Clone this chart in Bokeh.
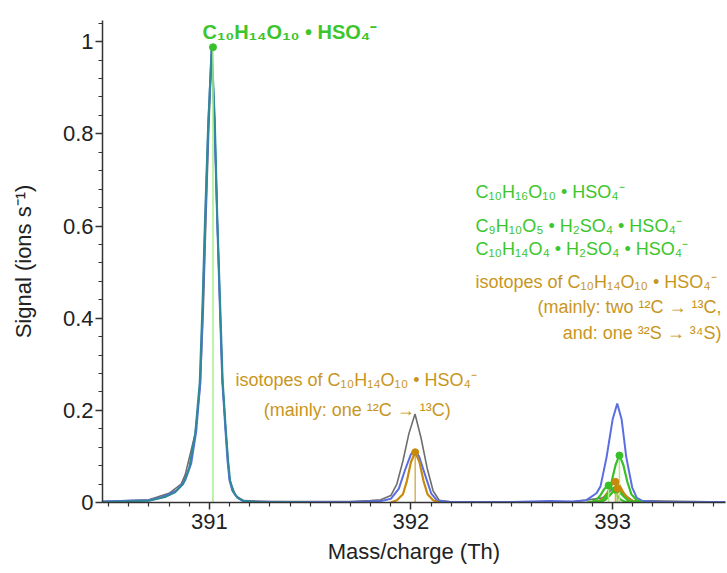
from bokeh.plotting import figure
from bokeh.models import Range1d, FixedTicker, Label
from bokeh.embed import file_html
from bokeh.resources import INLINE

# ---------------- data ----------------
# measured spectrum (blue)
meas_mz = [390.47, 390.60, 390.70, 390.76, 390.80, 390.84, 390.88, 390.91, 390.935, 390.955,
           390.968, 390.98, 390.995, 391.011, 391.025, 391.039, 391.051, 391.064, 391.080, 391.090,
           391.100, 391.114, 391.138, 391.163, 391.20, 391.40, 391.70, 391.85, 391.90, 391.94,
           391.97, 392.00, 392.02, 392.04, 392.07, 392.10, 392.13, 392.20, 392.50, 392.69,
           392.80, 392.87, 392.92, 392.94, 392.97, 393.00, 393.023, 393.045, 393.068, 393.097,
           393.12, 393.15, 393.25, 393.56]
meas_sig = [0.002, 0.004, 0.005, 0.011, 0.018, 0.027, 0.048, 0.085, 0.155, 0.26,
            0.43, 0.61, 0.82, 0.985, 0.83, 0.61, 0.44, 0.265, 0.156, 0.091,
            0.048, 0.026, 0.011, 0.004, 0.002, 0.001, 0.001, 0.003, 0.008, 0.03,
            0.07, 0.105, 0.113, 0.100, 0.060, 0.020, 0.004, 0.001, 0.001, 0.003,
            0.002, 0.005, 0.02, 0.035, 0.098, 0.18, 0.215, 0.18, 0.098, 0.033,
            0.01, 0.003, 0.001, 0.001]

# second spectrum (grey)
grey_mz = [390.47, 390.70, 390.80, 390.86, 390.88, 390.905, 390.93, 390.955, 390.97, 390.982,
           390.997, 391.012, 391.026, 391.040, 391.052, 391.065, 391.082, 391.10, 391.13, 391.17,
           391.30, 391.70, 391.80, 391.85, 391.90, 391.93, 391.96, 391.99, 392.02, 392.05,
           392.08, 392.11, 392.14, 392.20, 392.80, 392.95, 393.00, 393.02, 393.05, 393.10, 393.56]
grey_sig = [0.002, 0.006, 0.02, 0.04, 0.06, 0.105, 0.15, 0.255, 0.42, 0.60,
            0.81, 0.975, 0.82, 0.60, 0.43, 0.26, 0.15, 0.05, 0.015, 0.004,
            0.002, 0.002, 0.004, 0.006, 0.015, 0.04, 0.09, 0.15, 0.192, 0.14,
            0.075, 0.025, 0.005, 0.001, 0.001, 0.01, 0.03, 0.035, 0.02, 0.004, 0.001]

# fit of main peak (teal)
fit_mz = [390.47, 390.70, 390.78, 390.83, 390.87, 390.90, 390.93, 390.952, 390.966, 390.978,
          390.994, 391.012, 391.027, 391.040, 391.053, 391.066, 391.082, 391.093, 391.103, 391.117,
          391.14, 391.17, 391.25, 391.50]
fit_sig = [0.001, 0.004, 0.012, 0.022, 0.04, 0.075, 0.15, 0.26, 0.43, 0.61,
           0.82, 0.985, 0.83, 0.61, 0.44, 0.265, 0.156, 0.091, 0.048, 0.024,
           0.010, 0.003, 0.001, 0.0]

# fitted isotope peak at 392 (orange)
iso392_mz = [391.90, 391.93, 391.96, 391.98, 392.00, 392.021, 392.042, 392.062, 392.082, 392.11, 392.14]
iso392_sig = [0.0, 0.005, 0.018, 0.047, 0.088, 0.109, 0.088, 0.047, 0.018, 0.005, 0.0]

# fitted peaks at 393 (green: identified compounds)
g1_mz = [392.92, 392.95, 392.975, 392.995, 393.015, 393.034, 393.053, 393.073, 393.093, 393.12, 393.15]
g1_sig = [0.0, 0.005, 0.018, 0.045, 0.082, 0.102, 0.082, 0.045, 0.018, 0.005, 0.0]
g2_mz = [392.87, 392.90, 392.92, 392.94, 392.96, 392.98, 393.00, 393.02, 393.04, 393.06, 393.09]
g2_sig = [0.0, 0.002, 0.006, 0.016, 0.030, 0.037, 0.030, 0.016, 0.006, 0.002, 0.0]
g3_mz = [392.91, 392.94, 392.96, 392.98, 393.00, 393.017, 393.035, 393.055, 393.075, 393.10, 393.13]
g3_sig = [0.0, 0.002, 0.005, 0.013, 0.023, 0.028, 0.023, 0.013, 0.005, 0.002, 0.0]

# fitted isotope peaks at 393 (orange)
o1_mz = [392.90, 392.93, 392.955, 392.975, 392.995, 393.014, 393.033, 393.053, 393.073, 393.10, 393.13]
o1_sig = [0.0, 0.003, 0.009, 0.022, 0.038, 0.045, 0.038, 0.022, 0.009, 0.003, 0.0]
o2_mz = [392.91, 392.94, 392.965, 392.985, 393.005, 393.025, 393.045, 393.065, 393.085, 393.11, 393.14]
o2_sig = [0.0, 0.002, 0.006, 0.015, 0.025, 0.030, 0.025, 0.015, 0.006, 0.002, 0.0]

# peak positions (sticks) and heights
green_pk_mz = [391.018, 392.98, 393.017, 393.034]
green_pk_sig = [0.988, 0.037, 0.028, 0.102]
orange_pk_mz = [392.021, 393.014, 393.025]
orange_pk_sig = [0.109, 0.045, 0.030]

x_tick_values = [391, 392, 393]
x_tick_labels = ["391", "392", "393"]
x_minor_ticks = [390.5, 390.6, 390.7, 390.8, 390.9, 391.1, 391.2, 391.3, 391.4, 391.5, 391.6,
                 391.7, 391.8, 391.9, 392.1, 392.2, 392.3, 392.4, 392.5, 392.6, 392.7, 392.8,
                 392.9, 393.1, 393.2, 393.3, 393.4, 393.5]
y_tick_values = [0, 0.2, 0.4, 0.6, 0.8, 1.0]
y_tick_labels = ["0", "0.2", "0.4", "0.6", "0.8", "1"]
y_minor_ticks = [0.04, 0.08, 0.12, 0.16, 0.24, 0.28, 0.32, 0.36, 0.44, 0.48, 0.52, 0.56,
                 0.64, 0.68, 0.72, 0.76, 0.84, 0.88, 0.92, 0.96, 1.04]

# ---------------- styling ----------------
FONT = "Liberation Sans"
BLUE = "#5b6ee0"
TEAL = "#2f8a98"
GREY = "#6e6e6e"
GREEN = "#3cc62c"
GREEN_FIT = "#38c028"
STICK_GREEN = "#a8ef8a"
ORANGE = "#c8961e"
ORANGE_FIT = "#c88a0c"
STICK_ORANGE = "#d8b25a"

p = figure(width=727, height=573, output_backend="svg", toolbar_location=None,
           x_range=Range1d(390.47, 393.56), y_range=Range1d(0, 1.046),
           min_border_left=102, min_border_right=2, min_border_top=20, min_border_bottom=71)
p.outline_line_color = None
p.grid.visible = False
p.background_fill_color = "white"
p.border_fill_color = "white"

# curves
p.line(grey_mz, grey_sig, color=GREY, line_width=1.6)
p.line(meas_mz, meas_sig, color=BLUE, line_width=2.0)
p.line(fit_mz, fit_sig, color=TEAL, line_width=2.0)

for xs, ys in [(iso392_mz, iso392_sig), (o1_mz, o1_sig), (o2_mz, o2_sig)]:
    p.line(xs, ys, color=ORANGE_FIT, line_width=2.2)
for xs, ys in [(g2_mz, g2_sig), (g3_mz, g3_sig), (g1_mz, g1_sig)]:
    p.line(xs, ys, color=GREEN_FIT, line_width=2.2)

# sticks
p.segment(x0=green_pk_mz, y0=[0] * len(green_pk_mz), x1=green_pk_mz, y1=green_pk_sig,
          color=STICK_GREEN, line_width=1.5)
p.segment(x0=orange_pk_mz, y0=[0] * len(orange_pk_mz), x1=orange_pk_mz, y1=orange_pk_sig,
          color=STICK_ORANGE, line_width=1.5)
p.scatter(green_pk_mz, green_pk_sig, size=7, color=GREEN_FIT)
p.scatter(orange_pk_mz, orange_pk_sig, size=7, color=ORANGE_FIT)

# axes
for ax in (p.xaxis[0], p.yaxis[0]):
    ax.axis_line_color = "#333333"
    ax.axis_line_width = 1.5
    ax.major_tick_line_color = "#333333"
    ax.minor_tick_line_color = "#333333"
    ax.major_tick_line_width = 1.5
    ax.minor_tick_line_width = 1.2
    ax.major_tick_in = 0
    ax.major_tick_out = 7
    ax.minor_tick_in = 0
    ax.minor_tick_out = 4
    ax.major_label_text_font = FONT
    ax.major_label_text_font_size = "22px"
    ax.major_label_text_color = "#222222"
    ax.axis_label_text_font = FONT
    ax.axis_label_text_font_size = "22px"
    ax.axis_label_text_font_style = "normal"
    ax.axis_label_text_color = "#222222"

p.xaxis.ticker = FixedTicker(ticks=x_tick_values, minor_ticks=x_minor_ticks)
p.yaxis.ticker = FixedTicker(ticks=y_tick_values, minor_ticks=y_minor_ticks)
p.xaxis.major_label_overrides = dict(zip(x_tick_values, x_tick_labels))
p.yaxis.major_label_overrides = dict(zip(y_tick_values, y_tick_labels))
p.xaxis.axis_label = "Mass/charge (Th)"
p.yaxis.axis_label = "Signal (ions s⁻¹)"
p.xaxis.major_label_standoff = 4
p.xaxis.axis_label_standoff = 7
p.yaxis.major_label_standoff = 2
p.yaxis.axis_label_standoff = 24

# annotations
def add_label(x, y, text, color, size, align="left", bold=False):
    p.add_layout(Label(x=x, y=y, text=text, text_color=color, text_font=FONT,
                       text_font_size=size, text_align=align, text_baseline="alphabetic",
                       text_font_style="bold" if bold else "normal"))

add_label(391.40, 1.02, "C₁₀H₁₄O₁₀ • HSO₄⁻", GREEN, "20px", "center", True)

add_label(392.32, 0.674, "C₁₀H₁₆O₁₀ • HSO₄⁻", GREEN, "18px")
add_label(392.32, 0.601, "C₉H₁₀O₅ • H₂SO₄ • HSO₄⁻", GREEN, "18px")
add_label(392.32, 0.550, "C₁₀H₁₄O₄ • H₂SO₄ • HSO₄⁻", GREEN, "18px")
add_label(392.32, 0.478, "isotopes of C₁₀H₁₄O₁₀ • HSO₄⁻", ORANGE, "18px")
add_label(393.54, 0.424, "(mainly: two ¹²C → ¹³C,", ORANGE, "18px", "right")
add_label(393.54, 0.367, "and: one ³²S → ³⁴S)", ORANGE, "18px", "right")

add_label(391.13, 0.265, "isotopes of C₁₀H₁₄O₁₀ • HSO₄⁻", ORANGE, "18px")
add_label(391.27, 0.200, "(mainly: one ¹²C → ¹³C)", ORANGE, "18px")

open("out.html", "w").write(file_html(p, INLINE))
